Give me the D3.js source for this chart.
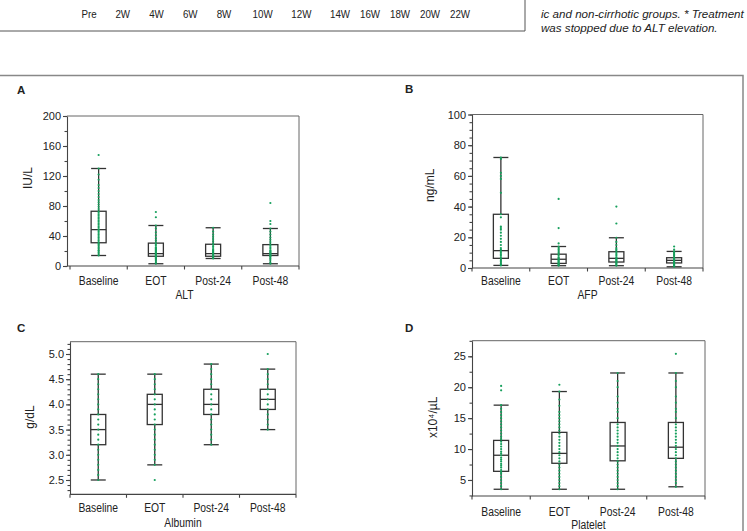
<!DOCTYPE html>
<html>
<head>
<meta charset="utf-8">
<script src="https://cdn.jsdelivr.net/npm/d3@7"></script>
<style>
  body { margin: 0; background: #fff; }
  svg text { font-family: "Liberation Sans", Arial, sans-serif; fill: #222; }
</style>
</head>
<body>
<script>
const categories = ["Baseline", "EOT", "Post-24", "Post-48"];

// labels of the cut-off chart above
const weekLabels = ["Pre", "2W", "4W", "6W", "8W", "10W", "12W", "14W", "16W", "18W", "20W", "22W"];
const weekNums = [0, 2, 4, 6, 8, 10, 12, 14, 16, 18, 20, 22];
const noteLines = ["ic and non-cirrhotic groups. * Treatment", "was stopped due to ALT elevation."];

// box stats: [whisker low, Q1, median, Q3, whisker high]
const altStats = [[14, 31, 48.5, 73, 130], [3, 13, 16.5, 30.5, 54], [10, 13, 16.5, 29, 51], [3, 14, 16.5, 28.5, 50]];
const afpStats = [[1.7, 6.3, 11.3, 35, 72], [1.5, 3, 5.7, 9, 14], [1.5, 3.9, 6.3, 10.6, 19.7], [0.8, 3.3, 5, 6.7, 10.8]];
const albStats = [[2.5, 3.2, 3.5, 3.8, 4.6], [2.8, 3.6, 4.0, 4.2, 4.6], [3.2, 3.8, 4.0, 4.3, 4.8], [3.5, 3.9, 4.1, 4.3, 4.7]];
const pltStats = [[3.5, 6.4, 9, 11.4, 17.1], [3.5, 7.7, 9.3, 12.7, 19.3], [3.5, 8.1, 10.5, 14.3, 22.3], [3.9, 8.5, 10.3, 14.3, 22.3]];

// individual patients (green dots)
const altDots = [
  [14, 16, 18, 20, 21, 23, 25, 27, 29, 30, 32, 34, 36, 38, 40, 42, 44, 46, 48, 49, 51, 53, 55, 57, 59, 61, 63, 65, 67, 69, 71, 73, 76, 79, 82, 85, 88, 92, 96, 100, 104, 108, 115, 122, 130, 148],
  [3, 5, 7, 9, 10, 11, 12, 13, 14, 15, 16, 17, 18, 19, 20, 21, 22, 23, 24, 25, 27, 29, 31, 34, 37, 41, 45, 50, 54, 65, 72],
  [10, 11, 12, 13, 14, 15, 16, 17, 18, 19, 20, 21, 22, 24, 26, 28, 30, 33, 36, 39, 42, 46, 51],
  [3, 5, 8, 10, 12, 13, 14, 15, 16, 17, 18, 19, 20, 21, 23, 25, 27, 29, 32, 35, 38, 42, 46, 50, 56, 60, 84]
];
const afpDots = [
  [1.7, 2, 3, 4, 5, 6, 7, 8, 9, 10, 11, 12, 13, 15, 17, 19, 21, 23, 25, 26, 27, 33, 35, 49, 58, 60, 62, 71, 72],
  [1.5, 2, 2.5, 3, 3.5, 4, 4.5, 5, 5.5, 6, 6.5, 7, 8, 9, 10, 11, 12, 13, 14, 16, 26, 45],
  [1.5, 2, 3, 3.5, 4, 4.5, 5, 5.5, 6, 6.5, 7, 8, 9, 10, 11, 12, 13, 15, 17, 19.7, 29, 40],
  [0.8, 1.5, 2, 2.5, 3, 3.5, 4, 4.5, 5, 5.5, 6, 6.5, 7, 8, 9, 10, 10.8, 12, 14]
];
const albDots = [
  [2.5, 2.6, 2.7, 2.8, 2.9, 3.0, 3.1, 3.2, 3.3, 3.4, 3.5, 3.6, 3.7, 3.8, 3.9, 4.0, 4.1, 4.2, 4.3, 4.4, 4.5, 4.6],
  [2.5, 2.8, 2.9, 3.0, 3.1, 3.2, 3.3, 3.4, 3.5, 3.6, 3.7, 3.8, 3.9, 4.0, 4.1, 4.2, 4.3, 4.4, 4.5, 4.6],
  [3.2, 3.3, 3.4, 3.5, 3.6, 3.7, 3.8, 3.9, 4.0, 4.1, 4.2, 4.3, 4.4, 4.5, 4.6, 4.7, 4.8],
  [3.5, 3.6, 3.7, 3.8, 3.9, 4.0, 4.1, 4.2, 4.3, 4.4, 4.5, 4.6, 4.7, 5.0]
];
const pltDots = [
  [3.5, 4, 4.5, 5, 5.5, 6, 6.3, 6.6, 7, 7.3, 7.6, 8, 8.3, 8.6, 9, 9.3, 9.6, 10, 10.4, 10.8, 11.2, 11.6, 12, 12.5, 13, 13.5, 14, 14.5, 15, 15.5, 16, 16.5, 17.1, 19.5, 20.2],
  [3.5, 4, 4.5, 5, 5.5, 6, 6.5, 7, 7.5, 8, 8.5, 9, 9.5, 10, 10.5, 11, 11.5, 12, 12.5, 13, 13.5, 14, 14.5, 15, 15.5, 16, 17, 18, 19.3, 20.4],
  [3.5, 4, 4.5, 5, 5.5, 6, 6.5, 7, 7.5, 8, 8.5, 9, 9.5, 10, 10.5, 11, 11.5, 12, 12.5, 13, 13.5, 14, 15, 16, 16.5, 17.5, 18.5, 20, 21, 22.3],
  [3.9, 4.5, 5, 5.5, 6, 6.5, 7, 7.5, 8, 8.5, 9, 9.5, 10, 10.5, 11, 11.5, 12, 12.5, 13, 13.5, 14, 15, 16, 16.5, 17.5, 18.5, 20, 21, 22.3, 25.4]
];

const altTicks = [0, 40, 80, 120, 160, 200];
const afpTicks = [0, 20, 40, 60, 80, 100];
const albTicks = [2.5, 3.0, 3.5, 4.0, 4.5, 5.0];
const pltTicks = [5, 10, 15, 20, 25];

const green = "#17a05d";
const ink = "#333";

const svg = d3.select("body").append("svg")
  .attr("width", 747).attr("height", 531);

// narrow look of the original lettering
function condense(sel, k) {
  sel.each(function () {
    const w = this.getComputedTextLength();
    d3.select(this).attr("textLength", w * k).attr("lengthAdjust", "spacingAndGlyphs");
  });
}

// top strip: remains of the figure above
const wk = d3.scaleLinear().domain([0, 8, 14, 22]).range([89, 224, 340, 460]);
svg.append("path").attr("d", "M0,31H525V0").attr("fill", "none").attr("stroke", "#555").attr("stroke-width", 1);
svg.append("g").selectAll("text").data(weekLabels).join("text")
  .attr("x", (d, i) => wk(weekNums[i])).attr("y", 18)
  .attr("text-anchor", "middle").attr("font-size", 11.5).text(d => d)
  .call(condense, 0.85);
svg.append("g").selectAll("text").data(noteLines).join("text")
  .attr("x", 541).attr("y", (d, i) => 18 + i * 14)
  .attr("font-size", 11.6).attr("font-style", "italic")
  .text(d => d);

// outer frame of the lower figure
svg.append("path").attr("d", "M0,75.5H743V531").attr("fill", "none").attr("stroke", "#888").attr("stroke-width", 1.5);

function drawPanel(p) {
  const g = svg.append("g");
  const x = d3.scaleBand().domain(categories).range([p.x0, p.x1]);
  const y = d3.scaleLinear().domain(p.domain).range([p.yBot, p.yTop]);

  // frame (top + right)
  g.append("path").attr("d", `M${p.axisX},${p.yTop}H${p.x1}V${p.yBot}`)
    .attr("fill", "none").attr("stroke", "#666").attr("stroke-width", 1);

  // y axis
  const ya = g.append("g").attr("transform", `translate(${p.axisX},0)`)
    .call(d3.axisLeft(y).tickValues(p.ticks).tickFormat(p.fmt).tickSize(4).tickPadding(2).tickSizeOuter(0));
  ya.append("g").call(d3.axisLeft(y).tickValues(d3.range(p.minorStart, p.domain[1] + 1e-9, p.minor)).tickFormat("").tickSize(2.5).tickSizeOuter(0))
    .select(".domain").remove();
  ya.selectAll("text").attr("font-size", 11).style("fill", "#222");
  ya.selectAll("line,path").attr("stroke", "#444").attr("stroke-width", 1.1);

  // x axis
  const xa = g.append("g").attr("transform", `translate(0,${p.yBot})`)
    .call(d3.axisBottom(x).tickSize(0).tickPadding(p.labelPad).tickSizeOuter(0));
  xa.select(".domain").remove();
  xa.selectAll("text").attr("font-size", 12).style("fill", "#222").call(condense, 0.86);
  g.append("line").attr("x1", p.axisX).attr("x2", p.x1).attr("y1", p.yBot).attr("y2", p.yBot)
    .attr("stroke", "#444").attr("stroke-width", 1.2);
  g.append("g").selectAll("line").data(d3.range(categories.length + 1)).join("line")
    .attr("x1", i => p.x0 + i * x.step()).attr("x2", i => p.x0 + i * x.step())
    .attr("y1", p.yBot).attr("y2", p.yBot + 3.5)
    .attr("stroke", "#444").attr("stroke-width", 1.1);

  // boxes
  const bw = 15;
  const box = g.append("g").selectAll("g").data(p.stats).join("g")
    .attr("transform", (d, i) => `translate(${x(categories[i]) + x.bandwidth() / 2},0)`)
    .attr("stroke", ink).attr("stroke-width", 1.3).attr("fill", "none");
  box.append("line").attr("y1", d => y(d[0])).attr("y2", d => y(d[1]));
  box.append("line").attr("y1", d => y(d[3])).attr("y2", d => y(d[4]));
  box.append("rect").attr("x", -bw / 2).attr("width", bw)
    .attr("y", d => y(d[3])).attr("height", d => y(d[1]) - y(d[3]));
  box.append("line").attr("x1", -bw / 2).attr("x2", bw / 2).attr("y1", d => y(d[2])).attr("y2", d => y(d[2]));
  box.append("line").attr("x1", -bw / 2).attr("x2", bw / 2).attr("y1", d => y(d[0])).attr("y2", d => y(d[0]));
  box.append("line").attr("x1", -bw / 2).attr("x2", bw / 2).attr("y1", d => y(d[4])).attr("y2", d => y(d[4]));

  // dots
  p.dots.forEach((vals, i) => {
    const cx = x(categories[i]) + x.bandwidth() / 2;
    g.append("g").selectAll("circle").data(vals).join("circle")
      .attr("cx", cx).attr("cy", d => y(d)).attr("r", 1.1).attr("fill", green);
  });

  // titles
  g.append("text").attr("x", p.letterX).attr("y", p.letterY)
    .attr("font-size", 11.5).attr("font-weight", "bold").text(p.letter);
  g.append("text").attr("transform", `translate(${p.yTitleX},${(p.yTop + p.yBot) / 2 + p.yTitleDy}) rotate(-90)`)
    .attr("text-anchor", "middle").attr("font-size", 12).text(p.yTitle);
  g.append("text").attr("x", (p.x0 + p.x1) / 2).attr("y", p.xTitleY)
    .attr("text-anchor", "middle").attr("font-size", 12).text(p.xTitle)
    .call(condense, 0.86);
}

drawPanel({ letter: "A", letterX: 17, letterY: 94, axisX: 67, x0: 70, x1: 299, yTop: 116, yBot: 266,
  domain: [0, 200], ticks: altTicks, minor: 20, minorStart: 0, fmt: d3.format("d"), labelPad: 10,
  stats: altStats, dots: altDots, yTitle: "IU/L", yTitleX: 32, yTitleDy: -13, xTitle: "ALT", xTitleY: 299 });

drawPanel({ letter: "B", letterX: 405, letterY: 93, axisX: 472, x0: 472, x1: 703, yTop: 114.5, yBot: 268,
  domain: [0, 100], ticks: afpTicks, minor: 5, minorStart: 0, fmt: d3.format("d"), labelPad: 8.5,
  stats: afpStats, dots: afpDots, yTitle: "ng/mL", yTitleX: 434, yTitleDy: -6, xTitle: "AFP", xTitleY: 299 });

drawPanel({ letter: "C", letterX: 17, letterY: 332, axisX: 70, x0: 70, x1: 296, yTop: 341.7, yBot: 494.3,
  domain: [2.216, 5.244], ticks: albTicks, minor: 0.1, minorStart: 2.3, fmt: d3.format(".1f"), labelPad: 9.5,
  stats: albStats, dots: albDots, yTitle: "g/dL", yTitleX: 34, yTitleDy: -1, xTitle: "Albumin", xTitleY: 527 });

drawPanel({ letter: "D", letterX: 405, letterY: 332, axisX: 472, x0: 472, x1: 705, yTop: 340.7, yBot: 496,
  domain: [2.41, 27.52], ticks: pltTicks, minor: 2.5, minorStart: 2.5, fmt: d3.format("d"), labelPad: 11.5,
  stats: pltStats, dots: pltDots, yTitle: "x10⁴/µL", yTitleX: 437, yTitleDy: -1, xTitle: "Platelet", xTitleY: 529 });
</script>
</body>
</html>
